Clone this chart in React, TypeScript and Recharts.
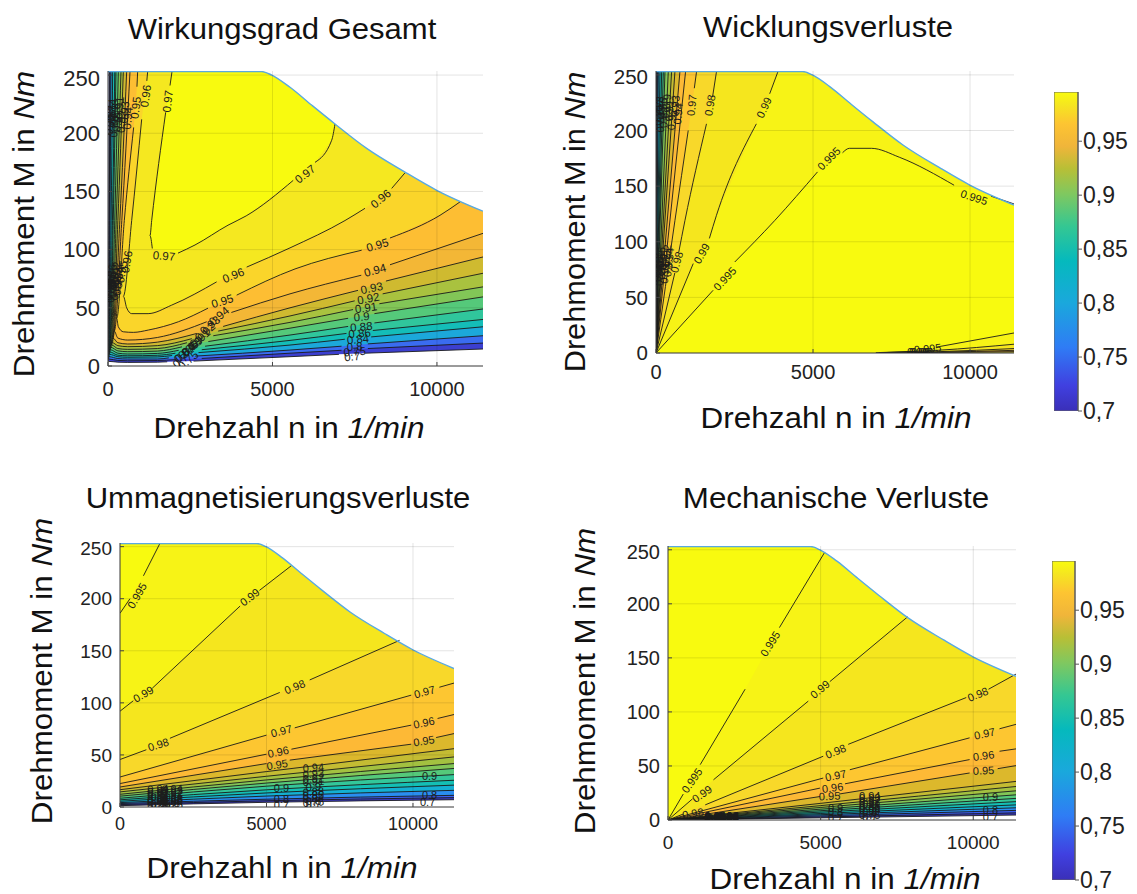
import { Area, Bar, BarChart, CartesianGrid, ComposedChart, Line, Scatter, XAxis, YAxis } from "recharts";

const FONT = "'Liberation Sans', Arial, sans-serif";
const N_MAX = 11400;
const M_MAX = 253.5;
const nTicks = [0, 5000, 10000];
const mTicks = [0, 50, 100, 150, 200, 250];
const barTicks = [0.7, 0.75, 0.8, 0.85, 0.9, 0.95];

type Pt = [number, number | null];
type Lab = [number, number, string, number];

const toPts = (a: Pt[]) => a.map(([n, m]) => ({ n, m }));
const solid = (a: Pt[]) => toPts(a.filter((p) => p[1] !== null));

// torque limit, same machine in all four plots
const envelope: Pt[] = [[0, 253], [4670, 253], [4976, 250], [5533, 239.5], [6200, 224], [6901, 208], [7864, 187], [9029, 166.6], [9992, 151], [11400, 133]];

const lowNames = ["0.94", "0.93", "0.92", "0.91", "0.9", "0.88", "0.86", "0.84", "0.8", "0.75", "0.7"];
const cluster = (ns: number[], ms: number[], angle: number): Lab[] =>
  lowNames.map((t, i) => [ns[i], ms[i], t, angle]);

// ---- Wirkungsgrad Gesamt
const gesamtFills = ["#3c3fd0", "#3a6cf0", "#1ca8da", "#14bdb8", "#30c69c", "#55c97a", "#82c657", "#a9c23f", "#cfba30", "#f3b736", "#fdbe33", "#fad52a", "#f5e820", "#f8fa0f"];
const gesamtLower: Pt[][] = [
  [[10, 4], [300, 3.3], [600, 3.1], [1500, 3.3], [1800, 3.6], [2200, null], [2600, 4.2], [5533, 8], [7020, 10], [7420, null], [7820, 11], [11400, 14.6]],
  [[20, 6], [300, 4.8], [600, 4.5], [1500, 4.7], [2050, 5.5], [2440, null], [2850, 6.5], [5533, 11], [7100, 13.5], [7500, null], [7900, 15], [11400, 19.7]],
  [[30, 8], [300, 6.4], [600, 6], [1500, 6], [1850, 7], [2240, null], [2650, 8.5], [5533, 13.7], [7100, 17], [7500, null], [7900, 19], [11400, 26]],
  [[45, 10], [300, 8], [600, 7.5], [1500, 7.8], [1950, 9], [2340, null], [2750, 11.5], [5533, 18], [7200, 23], [7600, null], [8000, 25], [11400, 33.7]],
  [[55, 12], [300, 9.3], [600, 8.8], [1500, 9.2], [2050, 11], [2440, null], [2850, 14], [5533, 22], [7250, 28], [7650, null], [8050, 30.5], [11400, 40]],
  [[70, 14], [300, 11], [600, 10.3], [1500, 10.8], [2150, 13.5], [2544, null], [2950, 17], [5533, 26.6], [7300, 34], [7700, null], [8100, 37], [11400, 49]],
  [[90, 16], [300, 13], [600, 12.3], [1500, 12.8], [2250, 16.5], [2645, null], [3050, 21], [5533, 32.5], [7300, 41], [7712, null], [8100, 45], [11400, 59.4]],
  [[110, 18], [300, 15], [600, 14.3], [1500, 15], [2400, 20], [2800, null], [3200, 26], [5533, 37.5], [7450, 48.5], [7843, null], [8250, 53.5], [11400, 68]],
  [[130, 20], [300, 17.5], [600, 16.6], [1500, 17.5], [2550, 23.5], [2950, null], [3350, 30], [5533, 43], [7500, 56], [7913, null], [8350, 62], [11400, 79.7]],
  [[150, 24], [300, 20], [600, 18.9], [1500, 20.5], [2700, 28], [3100, null], [3500, 34], [5533, 50], [7600, 65], [8016, null], [8450, 73], [11400, 93.7]],
  [[190, 30], [300, 24], [600, 22.3], [1500, 24.5], [3000, 38], [3375, null], [3750, 46], [5533, 62], [7700, 78], [8117, null], [8573, 87], [11400, 114]],
  [[264, 41], [314, 33.7], [466, 29.4], [770, 28.9], [1226, 30.9], [2138, 38], [3040, 49.7], [3475, null], [3912, 60.9], [5685, 83.4], [7712, 99.5], [8190, null], [8573, 110], [10093, 129.5], [10700, 141]],
  [[466, 60], [568, 50], [720, 45], [1220, 45], [1936, 52.3], [3303, 72.3], [3760, null], [4216, 85], [5533, 101.5], [7205, 125], [7813, 135.5], [8250, null], [8624, 152.6], [9029, 166]],
  [[1277, 112], [1347, 101], [1702, null], [2128, 97], [2645, 104], [3648, 121], [4200, 129], [5630, 159.5], [5950, null], [6293, 175], [6800, 194], [6901, 208]],
];
const gesamtUpper: Pt[][] = [
  [[10, 4], [25, 125], [40, 253]],
  [[20, 6], [40, 125], [60, 253]],
  [[30, 8], [60, 125], [91, 253]],
  [[45, 10], [95, 125], [142, 253]],
  [[55, 12], [135, 125], [207, 253]],
  [[70, 14], [160, 125], [243, 253]],
  [[90, 16], [205, 125], [314, 253]],
  [[110, 18], [250, 125], [395, 253]],
  [[130, 20], [300, 125], [466, 253]],
  [[150, 24], [360, 125], [568, 253]],
  [[190, 30], [420, 125], [669, 253]],
  [[264, 41], [496, 125], [780, 205], [842, null], [880, 240], [902, 253]],
  [[466, 60], [720, 125], [1024, 212], [1100, null], [1180, 245], [1206, 253]],
  [[1277, 112], [1328, 125], [1754, 218], [1820, null], [1885, 241], [1946, 253]],
];
const gesamtLabels: Lab[] = [
  [1815, 227.5, "0.97", -84], [1146, 232, "0.96", -82], [842, 222, "0.95", -83],
  [1702, 94.6, "0.97", 5], [5989, 165, "0.97", -38], [3810, 78, "0.96", -22], [8290, 143.8, "0.96", -40],
  [3475, 55.7, "0.95", -17], [8190, 104, "0.95", -17], [568, 89.5, "0.96", -80], [416, 81, "0.95", -80],
  [8117, 82.3, "0.94", -15], [8016, 67, "0.93", -12], [7913, 58, "0.92", -10], [7843, 50, "0.91", -8],
  [7712, 42.3, "0.9", -5], [7700, 33.7, "0.88", -5], [7650, 28, "0.86", -5], [7600, 23, "0.84", -5],
  [7500, 16.6, "0.8", -4], [7500, 12.3, "0.75", -4], [7420, 8, "0.7", -4],
  ...cluster([3375, 3100, 2950, 2800, 2645, 2544, 2440, 2340, 2240, 2440, 2200], [42.9, 35, 29.4, 24, 19.5, 16.6, 14, 11.5, 9, 5, 4.5], -40),
  ...cluster([600, 500, 410, 340, 270, 210, 180, 120, 80, 55, 35], [213, 218, 210, 222, 208, 216, 206, 220, 212, 208, 218], -85),
  ...cluster([330, 290, 250, 215, 180, 150, 120, 90, 65, 40, 25], [76, 70, 80, 66, 74, 68, 78, 64, 72, 66, 76], -85),
];

// ---- shared band colours of the other three plots
const fillOf: Record<string, string> = {
  "0.7": "#3c3cc6", "0.75": "#3b5ff0", "0.8": "#2a8ef0", "0.84": "#14b0d2", "0.86": "#14bfb5", "0.88": "#33c79a",
  "0.9": "#55c97a", "0.91": "#82c657", "0.92": "#a3c140", "0.93": "#c4bc33", "0.94": "#dcb82c", "0.95": "#fdb936",
  "0.96": "#fdc631", "0.97": "#f8d82a", "0.98": "#f5e61e", "0.99": "#f7f316", "0.995": "#f8fa0f",
};
const rayLevels = ["0.7", "0.75", "0.8", "0.84", "0.86", "0.88", "0.9", "0.91", "0.92", "0.93", "0.94", "0.95", "0.96", "0.97", "0.98", "0.99", "0.995"];

// ---- Wicklungsverluste
const wicklungRays: Pt[][] = [
  [[0, 0], [15, 253]], [[0, 0], [30, 253]], [[0, 0], [42, 253]], [[0, 0], [74, 253]], [[0, 0], [127, 253]], [[0, 0], [180, 253]],
  [[0, 0], [233, 253]], [[0, 0], [286, 253]], [[0, 0], [391, 253]], [[0, 0], [497, 253]], [[0, 0], [603, 253]], [[0, 0], [762, 253]], [[0, 0], [942, 253]],
  [[0, 0], [603, 119], [1026, 200], [1133, null], [1220, 238], [1292, 253]],
  [[0, 0], [600, 72], [657, null], [720, 90], [921, 119], [1608, 206], [1715, null], [1800, 230], [1927, 253]],
  [[0, 0], [1186, 80.4], [1450, null], [1700, 103], [1926, 123.8], [3196, 206], [3439, null], [3620, 233], [3884, 253]],
  [[0, 0], [1820, 56.4], [2190, null], [2508, 81.8], [3778, 119], [5143, 162.8], [5503, null], [5940, 180], [6160, 184], [6858, 184], [7747, 176], [9493, 150.8], [10130, null], [10668, 141], [11400, 134]],
];
const wicklungBottom: Pt[][] = [
  [[7000, 0.3], [8300, 1.5], [8650, null], [8950, 5.4], [11400, 18]],
  [[7100, 0.2], [9000, 2.5], [11400, 7.9]],
  [[7200, 0.1], [9000, 1.2], [11400, 4]],
  [[7300, 0.1], [9000, 0.7], [11400, 2.4]],
  [[7300, 0], [9000, 0.4], [11400, 1.2]],
];
const wicklungLabels: Lab[] = [
  [3439, 220.7, "0.99", -65], [1715, 222.7, "0.98", -80], [1133, 222.7, "0.97", -85], [5503, 174.8, "0.995", -45],
  [10130, 140, "0.995", 18], [1450, 89.4, "0.99", -60], [2190, 66.9, "0.995", -47], [657, 81.8, "0.98", -75], [8650, 4, "0.995", -5],
  [8330, 0.8, "0.99", 0], [8400, 0.8, "0.98", 0], [8460, 0.8, "0.97", 0],
  ...cluster([700, 600, 500, 420, 340, 260, 200, 150, 100, 60, 30], [215, 222, 210, 218, 226, 212, 220, 208, 224, 214, 220], -85),
  ...cluster([420, 380, 330, 280, 230, 190, 150, 110, 80, 50, 25], [85, 78, 88, 72, 82, 76, 86, 70, 80, 74, 84], -85),
];

// ---- Ummagnetisierungsverluste
const ummagRays: Pt[][] = [
  [[0, 1.3], [5000, 4.5], [11400, 7]],
  [[0, 2.3], [5000, 6], [11400, 9]],
  [[0, 3.3], [5000, 7.5], [11400, 11.2]],
  [[0, 4.2], [5000, 10.5], [11400, 16]],
  [[0, 5.5], [5000, 13.5], [11400, 21]],
  [[0, 6.9], [5000, 16.5], [11400, 25.7]],
  [[0, 8.4], [5000, 20], [11400, 31.1]],
  [[0, 10.4], [5000, 23], [11400, 37]],
  [[0, 12.2], [5000, 26], [11400, 41.7]],
  [[0, 14.5], [5000, 29.5], [11400, 48.1]],
  [[0, 16.6], [5000, 34], [11400, 56]],
  [[0, 19.2], [5000, 41.7], [5362, null], [5793, 45], [9941, 60.3], [10372, null], [10790, 66.7], [11400, 70.5]],
  [[0, 22.5], [5000, 50.7], [5396, null], [5850, 55.5], [9941, 78.6], [10372, null], [10840, 85], [11400, 88.8]],
  [[0, 28.8], [5000, 69], [5510, null], [5964, 76], [9941, 107.4], [10394, null], [10900, 115], [11400, 119]],
  [[0, 45.6], [900, 55], [1306, null], [1704, 66], [5453, 110], [5964, null], [6475, 122], [9542, 160]],
  [[0, 92], [453, 102], [795, null], [1100, 114], [4100, 193], [4430, null], [4760, 208], [5862, 232]],
  [[0, 186], [340, 200], [580, null], [800, 222], [1360, 253]],
];
const ummagLabels: Lab[] = [
  [580, 203, "0.995", -60], [795, 108.4, "0.99", -30], [4430, 201.6, "0.99", -38], [1306, 60, "0.98", -17], [5964, 115.4, "0.98", -22],
  [5510, 73, "0.97", -15], [10394, 110.6, "0.97", -15], [5396, 52.9, "0.96", -12], [10372, 81, "0.96", -12],
  [5362, 40.7, "0.95", -9], [10372, 63.5, "0.95", -9], [5510, 18.3, "0.9", 0], [5510, 7.4, "0.8", 0], [5510, 1.6, "0.7", 0],
  [10565, 29.8, "0.9", 0], [10565, 11.3, "0.8", 0], [10500, 4.8, "0.7", 0],
  ...cluster(Array(11).fill(6600), [37.9, 32, 27.5, 24.5, 19.5, 14.7, 11.5, 8.3, 6, 4.6, 3], -4),
  ...cluster(Array(11).fill(1300), [17.6, 15.5, 13.5, 11.5, 9.8, 8, 6.5, 5, 3.5, 2.2, 0.8], -3),
  ...cluster(Array(11).fill(1780), [17.6, 15.5, 13.5, 11.5, 9.8, 8, 6.5, 5, 3.5, 2.2, 0.8], -3),
];

// ---- Mechanische Verluste
const mechRays: Pt[][] = [
  [[0, 0], [5000, 2], [11400, 4.6]],
  [[0, 0], [5000, 2.8], [11400, 6.6]],
  [[0, 0], [5000, 3.8], [11400, 8.9]],
  [[0, 0], [5000, 4.9], [11400, 11.3]],
  [[0, 0], [5000, 6], [11400, 14]],
  [[0, 0], [5000, 7.3], [11400, 17]],
  [[0, 0], [5000, 8.6], [11400, 20]],
  [[0, 0], [5000, 10], [11400, 23.3]],
  [[0, 0], [5000, 11.6], [11400, 27]],
  [[0, 0], [5000, 13.3], [11400, 31]],
  [[0, 0], [5000, 15.4], [11400, 35.7]],
  [[0, 0], [4977, 21.7], [5294, null], [5600, 24], [9880, 43.5], [10337, null], [10800, 47.5], [11400, 50.3]],
  [[0, 0], [4977, 29.5], [5392, null], [5800, 33.5], [9880, 55.9], [10337, null], [10860, 63.6], [11400, 65.8]],
  [[0, 0], [5085, 38.8], [5490, null], [5957, 46.5], [9880, 76], [10370, null], [10860, 84.4], [11400, 88.5]],
  [[0, 0], [500, 5.5], [817, null], [1219, 14], [5085, 59], [5490, null], [5903, 70], [9771, 113.3], [10150, null], [10500, 121], [11400, 135]],
  [[0, 0], [800, 19.5], [1110, null], [1490, 37.2], [4595, 110], [4977, null], [5300, 128], [7850, 188]],
  [[0, 0], [500, 24], [784, null], [1055, 51.2], [2526, 121], [3343, null], [3650, 178], [5140, 248]],
];
const mechLabels: Lab[] = [
  [3343, 163, "0.995", -58], [784, 36.6, "0.995", -55], [4977, 121, "0.99", -40], [1110, 24.2, "0.99", -35],
  [5490, 63.6, "0.98", -22], [10150, 116.4, "0.98", -22], [817, 6.2, "0.98", -10],
  [5490, 41.2, "0.97", -12], [10370, 80, "0.97", -12], [5392, 30, "0.96", -8], [10337, 59.6, "0.96", -8], [5294, 22.3, "0.95", -3], [10337, 45.9, "0.95", -3],
  [5490, 10.9, "0.9", 0], [5490, 7, "0.8", 0], [5490, 1.6, "0.7", 0], [10560, 21, "0.9", 0], [10560, 9.3, "0.8", 0], [10560, 3, "0.7", 0],
  ...cluster(Array(11).fill(6610), [22.4, 20, 17.7, 15.5, 14.4, 12.5, 11.3, 9.5, 7.5, 5, 3], 0),
  ...cluster(Array(11).fill(1546), [3.8, 3.4, 3, 2.6, 2.2, 1.8, 1.4, 1, 0.6, 0.2, -0.2], 0),
  ...cluster(Array(11).fill(1970), [3.8, 3.4, 3, 2.6, 2.2, 1.8, 1.4, 1, 0.6, 0.2, -0.2], 0),
];

// parula as used by the colour bars
const parulaStops = [
  [0, "#3a2fb8"], [0.08, "#4040e0"], [0.2, "#2f7cf5"], [0.34, "#1aa8dc"], [0.47, "#05b9bd"],
  [0.58, "#35c792"], [0.68, "#7fc860"], [0.76, "#b8bf36"], [0.83, "#f0b53a"], [0.9, "#fdc432"], [0.96, "#f5e620"], [1, "#f9fb0e"],
] as const;
const barData = [{ k: "bar", v: 0.9956 }];

type Layer = { data: Pt[]; base: number; fill: string };

function Panel(props: {
  box: [number, number, number, number];
  layers: Layer[];
  lines: Pt[][];
  labels: Lab[];
  xFont: number;
  yFont: number;
  xGap: number;
  labelFont: number;
}) {
  const { box, layers, lines, labels, xFont, yFont, xGap, labelFont } = props;
  const [l, t, r, b] = box;
  const labelData = labels.map(([n, m, text, angle]) => ({ n, m, text, angle }));
  const renderLabel = (p: any) => (
    <text
      x={p.cx}
      y={p.cy}
      transform={`rotate(${p.payload.angle} ${p.cx} ${p.cy})`}
      textAnchor="middle"
      dominantBaseline="central"
      fontFamily={FONT}
      fontSize={labelFont}
      fill="#1c1c1c"
    >
      {p.payload.text}
    </text>
  );
  return (
    <div style={{ position: "absolute", left: l - 60, top: t - 6 }}>
      <ComposedChart
        width={r - l + 68}
        height={b - t + 42}
        margin={{ top: 6, right: 8, bottom: 0, left: 0 }}
      >
        <XAxis dataKey="n" type="number" domain={[0, N_MAX]} ticks={nTicks} height={36} stroke="#444" tick={{ fontSize: xFont, fontFamily: FONT, fill: "#222" }} tickSize={-4} tickMargin={xGap} allowDataOverflow />
        <YAxis dataKey="m" type="number" domain={[0, M_MAX]} ticks={mTicks} width={60} stroke="#444" tick={{ fontSize: yFont, fontFamily: FONT, fill: "#222" }} tickSize={-4} tickMargin={12} allowDataOverflow />
        <XAxis xAxisId="top" orientation="top" dataKey="n" type="number" domain={[0, N_MAX]} ticks={nTicks} height={0} stroke="#555" tickSize={-4} tickFormatter={() => ""} />
        <YAxis yAxisId="right" orientation="right" dataKey="m" type="number" domain={[0, M_MAX]} ticks={mTicks} width={0} stroke="#555" tickSize={-4} tickFormatter={() => ""} />
        {layers.map((a, i) => (
          <Area
            key={"a" + i}
            data={solid(a.data)}
            dataKey="m"
            baseValue={a.base}
            type="linear"
            fill={a.fill}
            fillOpacity={1}
            stroke="none"
            dot={false}
            activeDot={false}
            isAnimationActive={false}
          />
        ))}
        <Area data={solid(envelope)} dataKey="m" baseValue={M_MAX} type="monotone" fill="#fff" fillOpacity={1} stroke="none" dot={false} activeDot={false} isAnimationActive={false} />
        <CartesianGrid stroke="#000" strokeOpacity={0.11} horizontalValues={mTicks} verticalValues={nTicks} zIndex={450} />
        {lines.map((c, i) => (
          <Line key={"l" + i} data={toPts(c)} dataKey="m" type="monotone" stroke="#1a1a1a" strokeWidth={0.9} dot={false} activeDot={false} connectNulls={false} isAnimationActive={false} />
        ))}
        <Line data={toPts(envelope)} dataKey="m" type="monotone" stroke="#5aa9e0" strokeWidth={1.4} dot={false} activeDot={false} isAnimationActive={false} />
        <Scatter data={labelData} dataKey="m" shape={renderLabel} isAnimationActive={false} />
      </ComposedChart>
    </div>
  );
}

function ColorBar({ id, box }: { id: string; box: [number, number, number, number] }) {
  const [l, t, r, b] = box;
  return (
    <div style={{ position: "absolute", left: l, top: t - 13 }}>
      <BarChart width={r - l + 62} height={b - t + 26} data={barData} margin={{ top: 13, right: 0, bottom: 13, left: 0 }} barCategoryGap={0}>
        <defs>
          <linearGradient id={id} x1="0" y1="1" x2="0" y2="0">
            {parulaStops.map(([o, c]) => (
              <stop key={o} offset={o} stopColor={c} />
            ))}
          </linearGradient>
        </defs>
        <XAxis dataKey="k" hide />
        <YAxis
          orientation="right"
          type="number"
          width={62}
          domain={[0.7, 0.9956]}
          ticks={barTicks}
          interval={0}
          stroke="#555"
          tickSize={4}
          tickMargin={1}
          tick={{ fontSize: 23, fontFamily: FONT, fill: "#222" }}
          tickFormatter={(v: number) => String(v).replace(".", ",")}
          allowDataOverflow
        />
        <Bar dataKey="v" fill={`url(#${id})`} stroke="#666" isAnimationActive={false} />
      </BarChart>
    </div>
  );
}

const TEXT_STYLE = { position: "absolute", fontFamily: FONT, color: "#111", whiteSpace: "nowrap", lineHeight: 1 } as const;

function Title({ x, y, size, stretch, children }: any) {
  return (
    <div style={{ ...TEXT_STYLE, left: x, top: y, fontSize: size, transform: `translate(-50%,-50%) scaleX(${stretch})` }}>
      {children}
    </div>
  );
}
function NLabel({ x, y }: any) {
  return <Title x={x} y={y} size={29} stretch={1.085}>Drehzahl n in <i>1/min</i></Title>;
}
function MLabel({ x, y, stretch }: any) {
  return (
    <div style={{ ...TEXT_STYLE, left: x, top: y, fontSize: 29, transform: `translate(-50%,-50%) rotate(-90deg) scaleX(${stretch})` }}>
      Drehmoment M in <i>Nm</i>
    </div>
  );
}

// painter's order: each level paints everything above its contour
const gesamtLayers: Layer[] = [
  ...gesamtLower.map((c, i) => ({ data: c, base: M_MAX, fill: gesamtFills[i] })),
  ...gesamtUpper.map((c, i) => ({ data: c, base: M_MAX, fill: i === 0 ? "#fff" : gesamtFills[i - 1] })).reverse(),
];
const gesamtLines: Pt[][] = gesamtLower.map((c, i) => [...[...gesamtUpper[i]].reverse(), ...c.slice(1)]);

const wicklungLayers: Layer[] = [
  { data: [[0, 0], [N_MAX, 0]], base: M_MAX, fill: fillOf["0.995"] },
  { data: wicklungRays[16], base: M_MAX, fill: fillOf["0.99"] },
  { data: wicklungRays[15], base: M_MAX, fill: fillOf["0.98"] },
  { data: wicklungRays[14], base: M_MAX, fill: fillOf["0.97"] },
  ...wicklungRays.slice(0, 14).map((c, i) => ({ data: c, base: M_MAX, fill: i === 0 ? "#3c3cc6" : fillOf[rayLevels[i - 1]] })).reverse(),
  { data: wicklungBottom[0], base: 0, fill: fillOf["0.99"] },
  { data: wicklungBottom[1], base: 0, fill: fillOf["0.98"] },
  { data: wicklungBottom[2], base: 0, fill: fillOf["0.97"] },
  { data: wicklungBottom[3], base: 0, fill: fillOf["0.95"] },
  { data: wicklungBottom[4], base: 0, fill: fillOf["0.93"] },
];

const rayLayers = (rays: Pt[][]): Layer[] => rays.map((c, i) => ({ data: c, base: M_MAX, fill: fillOf[rayLevels[i]] }));

export default function App() {
  return (
    <div style={{ position: "absolute", left: 0, top: 0, width: 1137, height: 894, background: "#fff", overflow: "hidden" }}>
      <Title x={282} y={29} size={29} stretch={1.07}>Wirkungsgrad Gesamt</Title>
      <Title x={828} y={27} size={29} stretch={1.07}>Wicklungsverluste</Title>
      <Title x={278} y={498} size={29} stretch={1.07}>Ummagnetisierungsverluste</Title>
      <Title x={836} y={498} size={29} stretch={1.08}>Mechanische Verluste</Title>

      <Panel box={[108, 71, 483, 366]} layers={gesamtLayers} lines={gesamtLines} labels={gesamtLabels} xFont={20} yFont={22} xGap={20} labelFont={11.5} />
      <Panel box={[656, 71, 1014, 353]} layers={wicklungLayers} lines={[...wicklungRays, ...wicklungBottom]} labels={wicklungLabels} xFont={20} yFont={20.5} xGap={16} labelFont={11} />
      <Panel box={[120, 543, 454, 807]} layers={rayLayers(ummagRays)} lines={ummagRays} labels={ummagLabels} xFont={18} yFont={19} xGap={14} labelFont={11} />
      <Panel box={[668, 546, 1016, 820]} layers={rayLayers(mechRays)} lines={mechRays} labels={mechLabels} xFont={19} yFont={20} xGap={20} labelFont={11} />

      <NLabel x={289} y={428} />
      <NLabel x={836} y={418} />
      <NLabel x={282} y={868} />
      <NLabel x={845} y={879} />
      <MLabel x={24} y={224} stretch={1.08} />
      <MLabel x={575} y={222} stretch={1.06} />
      <MLabel x={42} y={671} stretch={1.08} />
      <MLabel x={585} y={681} stretch={1.08} />

      <ColorBar id="bar1" box={[1054, 92, 1078, 411]} />
      <ColorBar id="bar2" box={[1052, 561, 1075, 880]} />
    </div>
  );
}
